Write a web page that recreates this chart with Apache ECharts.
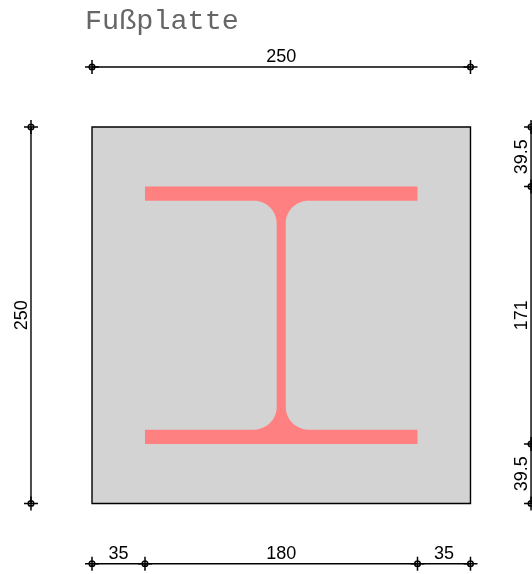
<!DOCTYPE html>
<html><head><meta charset="utf-8">
<style>html,body{margin:0;padding:0;background:#fff}#c{width:532px;height:574px}</style>
<script src="https://cdn.jsdelivr.net/npm/echarts@6/dist/echarts.min.js"></script>
</head><body><div id="c"></div>
<script>
const titleText = 'Fußplatte';
const plate = [0, 0, 250, 250];            // x0,y0,x1,y1
const beamCenter = [125, 125];
const beamB = 180, beamH = 171, beamTw = 6, beamTf = 9.5, beamR = 15;
const topChain = [0, 250];
const bottomChain = [0, 35, 215, 250];
const leftChain = [0, 250];
const rightChain = [0, 39.5, 210.5, 250];
const topLineY = 289.8, bottomLineY = -40, leftLineX = -40.3, rightLineX = 290;
const topLabels = ['250'];
const bottomLabels = ['35', '180', '35'];
const leftLabels = ['250'];
const rightLabels = ['39.5', '171', '39.5'];
const xMin = -60.77, xMax = 290.63, yMin = -46.8, yMax = 334.3;
const labelFont = '18px "Liberation Sans", Arial, sans-serif';
const tickSym = 'path://M7 0V14M0 7H14M9.8 7A2.8 2.8 0 1 1 4.2 7A2.8 2.8 0 1 1 9.8 7Z';

function chainLine(points, horizontal, fixed) {
  return {
    type: 'line', silent: true, animation: false, clip: false, z: 5,
    data: points.map(p => horizontal ? [p, fixed] : [fixed, p]),
    lineStyle: {color: '#000', width: 1.4},
    symbol: tickSym, symbolSize: 14, showSymbol: true, showAllSymbol: true,
    itemStyle: {color: 'rgba(0,0,0,0)', borderColor: '#000', borderWidth: 1.5, opacity: 1}
  };
}
const textRows = [];
function addLabels(points, labels, horizontal, fixed, dx, dy) {
  labels.forEach((t, i) => {
    const m = (points[i] + points[i + 1]) / 2;
    textRows.push([horizontal ? m : fixed, horizontal ? fixed : m, t, horizontal ? 0 : 1, dx, dy]);
  });
}
addLabels(topChain, topLabels, true, topLineY, 0, -10);
addLabels(bottomChain, bottomLabels, true, bottomLineY, 0, -10);
addLabels(leftChain, leftLabels, false, leftLineX, -9, 0);
addLabels(rightChain, rightLabels, false, rightLineX, -9, 0);

const chart = echarts.init(document.getElementById('c'), null, {renderer: 'canvas'});
chart.setOption({
  animation: false,
  backgroundColor: '#fff',
  title: {text: titleText, left: 80, top: 2,
    textStyle: {fontFamily: '"Liberation Mono", monospace', fontSize: 28.5, fontWeight: 'normal', color: '#666'}},
  grid: {left: 0, right: 0, top: 0, bottom: 0},
  xAxis: {type: 'value', min: xMin, max: xMax, show: false},
  yAxis: {type: 'value', min: yMin, max: yMax, show: false},
  series: [
    {type: 'custom', silent: true, z: 1, clip: false, coordinateSystem: 'cartesian2d', data: [plate],
     renderItem(p, api) {
       const a = api.coord([api.value(0), api.value(1)]), b = api.coord([api.value(2), api.value(3)]);
       return {type: 'rect', shape: {x: a[0], y: b[1], width: b[0] - a[0], height: a[1] - b[1]},
         style: {fill: '#d3d3d3', stroke: '#000', lineWidth: 1.4}};
     }},
    {type: 'custom', silent: true, z: 2, clip: false, coordinateSystem: 'cartesian2d', data: [[beamCenter[0], beamCenter[1]]],
     renderItem(p, api) {
       const cx = api.value(0), cy = api.value(1);
       const hb = beamB / 2, hh = beamH / 2, ht = beamTw / 2, k = 0.5523 * beamR;
       const yi = hh - beamTf;
       const P = (x, y) => { const c = api.coord([cx + x, cy + y]); return c[0].toFixed(2) + ' ' + c[1].toFixed(2); };
       const corner = (sx, sy) => ({from: [sx * (ht + beamR), sy * yi], c1: [sx * (ht + beamR - k), sy * yi],
         c2: [sx * ht, sy * (yi - beamR + k)], to: [sx * ht, sy * (yi - beamR)]});
       const fwd = c => `L${P(...c.from)}C${P(...c.c1)} ${P(...c.c2)} ${P(...c.to)}`;
       const rev = c => `L${P(...c.to)}C${P(...c.c2)} ${P(...c.c1)} ${P(...c.from)}`;
       const d = `M${P(-hb, hh)}L${P(hb, hh)}L${P(hb, yi)}` + fwd(corner(1, 1)) + rev(corner(1, -1)) +
         `L${P(hb, -yi)}L${P(hb, -hh)}L${P(-hb, -hh)}L${P(-hb, -yi)}` + fwd(corner(-1, -1)) + rev(corner(-1, 1)) +
         `L${P(-hb, yi)}Z`;
       const tl = api.coord([cx - hb, cy + hh]), br = api.coord([cx + hb, cy - hh]);
       return {type: 'path', shape: {pathData: d, layout: 'cover', x: tl[0], y: tl[1], width: br[0] - tl[0], height: br[1] - tl[1]},
         style: {fill: '#ff8080', stroke: null}};
     }},
    chainLine(topChain, true, topLineY),
    chainLine(bottomChain, true, bottomLineY),
    chainLine(leftChain, false, leftLineX),
    chainLine(rightChain, false, rightLineX),
    {type: 'custom', silent: true, z: 6, clip: false, coordinateSystem: 'cartesian2d', data: textRows,
     encode: {x: 0, y: 1},
     renderItem(p, api) {
       const c = api.coord([api.value(0), api.value(1)]);
       const row = textRows[p.dataIndex];
       return {type: 'text', x: c[0] + row[4], y: c[1] + row[5], rotation: row[3] ? Math.PI / 2 : 0,
         style: {text: row[2], font: labelFont, fill: '#000', align: 'center', verticalAlign: 'middle'}};
     }}
  ]
});
</script></body></html>
